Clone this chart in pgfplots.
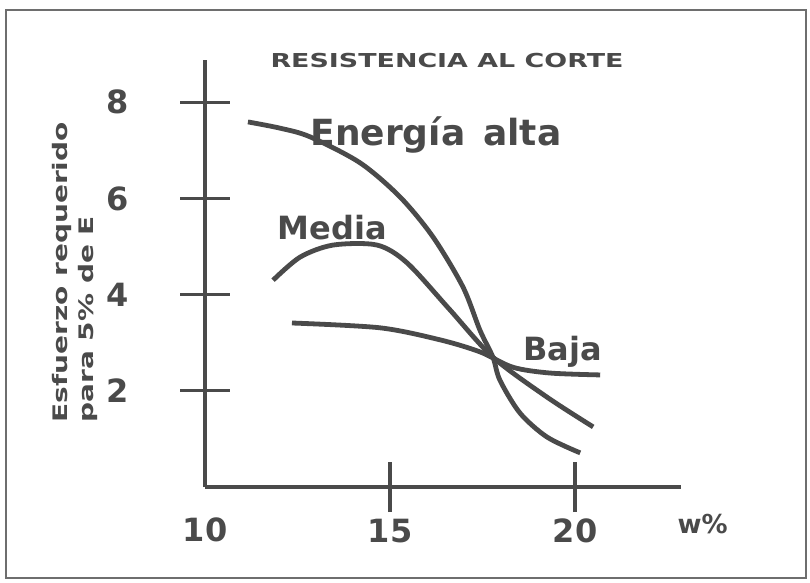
\documentclass[border=0pt]{standalone}
\usepackage{pgfplots}
\pgfplotsset{compat=1.18}
\usepackage{fontspec}
\setmainfont{DejaVu Sans}
\newfontfamily\lbl{DejaVu Sans Bold}
\newfontfamily\wide[FakeStretch=1.4]{DejaVu Sans Bold}
\definecolor{ink}{HTML}{4A4A4A}

\pgfplotstableread{
x y
11.16 7.59
12.03 7.46
12.84 7.28
14.19 6.74
15.27 6.03
16.16 5.20
16.97 4.16
17.43 3.26
17.78 2.70
17.97 2.22
18.51 1.54
19.24 1.04
20.14 0.71
}\alta

\pgfplotstableread{
x y
11.84 4.30
12.57 4.78
13.46 5.03
14.65 5.03
15.46 4.66
16.60 3.70
17.78 2.70
19.24 1.87
20.49 1.25
}\media

\pgfplotstableread{
x y
12.35 3.41
14.73 3.31
16.35 3.06
17.43 2.81
18.32 2.49
19.32 2.37
20.68 2.33
}\baja

\begin{document}
\begin{tikzpicture}
\begin{axis}[
x=18.5pt, y=24.05pt,
xmin=10, xmax=22.85,
ymin=0, ymax=8.88,
axis x line=bottom,
axis y line=left,
axis line style={-, ink, line width=1.6pt},
clip=false,
xtick={15,20},
extra x ticks={10},
extra x tick style={major tick length=0pt, xticklabel style={yshift=-12pt}},
ytick={2,4,6,8},
tick align=center,
major tick length=25pt,
tick style={ink, line width=1.6pt},
/pgf/number format/assume math mode=true,
tick label style={font=\lbl\fontsize{16}{18}\selectfont, text=ink},
yticklabel style={xshift=-22pt},
]
\addplot[ink, line width=2.4pt, smooth] table {\alta};
\addplot[ink, line width=2.4pt, smooth] table {\media};
\addplot[ink, line width=2.4pt, smooth] table {\baja};

\node[anchor=base west, text=ink, font=\lbl\fontsize{18}{20}\selectfont, inner sep=0pt] at (axis cs:12.84,7.09) {Energía\enspace alta};
\node[anchor=base west, text=ink, font=\lbl\fontsize{16}{18}\selectfont, inner sep=0pt] at (axis cs:11.95,5.14) {Media};
\node[anchor=base west, text=ink, font=\lbl\fontsize{16}{18}\selectfont, inner sep=0pt] at (axis cs:18.59,2.64) {Baja};
\node[anchor=base, text=ink, font=\wide\fontsize{9.6}{11}\selectfont, inner sep=0pt] at (axis cs:16.54,8.73) {RESISTENCIA AL CORTE};
\node[anchor=base west, text=ink, font=\lbl\fontsize{13}{15}\selectfont, inner sep=0pt] at (axis cs:22.76,-0.96) {w\%};
\node[rotate=90, anchor=south west, align=left, text=ink, font=\wide\fontsize{10}{13}\selectfont, inner sep=0pt] at (axis cs:7.12,1.33) {Esfuerzo requerido\\para 5\% de E};

\draw[ink!80, line width=1pt] (axis cs:4.622,-1.892) rectangle (axis cs:26.243,9.917);
\path (axis cs:4.459,-1.975) rectangle (axis cs:26.35,10.125);
\end{axis}
\end{tikzpicture}
\end{document}
